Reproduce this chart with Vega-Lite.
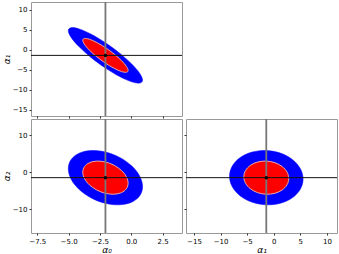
{
  "$schema": "https://vega.github.io/schema/vega-lite/v6.json",
  "padding": {"left": 1, "top": 0, "right": 0, "bottom": 0},
  "background": "white",
  "config": {
    "view": {"stroke": "#999", "strokeWidth": 1},
    "axis": {"labelFont": "DejaVu Sans", "labelFontSize": 7, "labelColor": "#000", "labelOverlap": false, "labelFlush": false, "titleFont": "DejaVu Sans", "titleFontSize": 9, "titleFontWeight": "normal", "titleFontStyle": "italic", "titleColor": "#000", "grid": false, "domain": false, "tickColor": "#000", "tickSize": 2, "tickWidth": 0.8, "labelPadding": 2, "titlePadding": 1}
  },
  "datasets": {
    "ell": [
      {"p":"01","lv":1,"i":0,"x":-0.251,"y":-5.161},{"p":"01","lv":1,"i":1,"x":-0.389,"y":-4.138},{"p":"01","lv":1,"i":2,"x":-0.781,"y":-2.696},{"p":"01","lv":1,"i":3,"x":-1.368,"y":-1.059},{"p":"01","lv":1,"i":4,"x":-2.06,"y":0.527},{"p":"01","lv":1,"i":5,"x":-2.752,"y":1.819},{"p":"01","lv":1,"i":6,"x":-3.339,"y":2.622},{"p":"01","lv":1,"i":7,"x":-3.731,"y":2.812},{"p":"01","lv":1,"i":8,"x":-3.869,"y":2.361},{"p":"01","lv":1,"i":9,"x":-3.731,"y":1.338},{"p":"01","lv":1,"i":10,"x":-3.339,"y":-0.104},{"p":"01","lv":1,"i":11,"x":-2.752,"y":-1.741},{"p":"01","lv":1,"i":12,"x":-2.06,"y":-3.327},{"p":"01","lv":1,"i":13,"x":-1.368,"y":-4.619},{"p":"01","lv":1,"i":14,"x":-0.781,"y":-5.422},{"p":"01","lv":1,"i":15,"x":-0.389,"y":-5.612},
      {"p":"01","lv":2,"i":0,"x":0.903,"y":-7.561},{"p":"01","lv":2,"i":1,"x":0.678,"y":-5.884},{"p":"01","lv":2,"i":2,"x":0.035,"y":-3.525},{"p":"01","lv":2,"i":3,"x":-0.926,"y":-0.842},{"p":"01","lv":2,"i":4,"x":-2.06,"y":1.756},{"p":"01","lv":2,"i":5,"x":-3.194,"y":3.874},{"p":"01","lv":2,"i":6,"x":-4.155,"y":5.189},{"p":"01","lv":2,"i":7,"x":-4.798,"y":5.5},{"p":"01","lv":2,"i":8,"x":-5.023,"y":4.761},{"p":"01","lv":2,"i":9,"x":-4.798,"y":3.084},{"p":"01","lv":2,"i":10,"x":-4.155,"y":0.725},{"p":"01","lv":2,"i":11,"x":-3.194,"y":-1.958},{"p":"01","lv":2,"i":12,"x":-2.06,"y":-4.556},{"p":"01","lv":2,"i":13,"x":-0.926,"y":-6.674},{"p":"01","lv":2,"i":14,"x":0.035,"y":-7.989},{"p":"01","lv":2,"i":15,"x":0.678,"y":-8.3},
      {"p":"02","lv":1,"i":0,"x":-0.251,"y":-2.93},{"p":"02","lv":1,"i":1,"x":-0.389,"y":-1.197},{"p":"02","lv":1,"i":2,"x":-0.781,"y":0.496},{"p":"02","lv":1,"i":3,"x":-1.368,"y":1.895},{"p":"02","lv":1,"i":4,"x":-2.06,"y":2.783},{"p":"02","lv":1,"i":5,"x":-2.752,"y":3.027},{"p":"02","lv":1,"i":6,"x":-3.339,"y":2.59},{"p":"02","lv":1,"i":7,"x":-3.731,"y":1.537},{"p":"02","lv":1,"i":8,"x":-3.869,"y":0.03},{"p":"02","lv":1,"i":9,"x":-3.731,"y":-1.703},{"p":"02","lv":1,"i":10,"x":-3.339,"y":-3.396},{"p":"02","lv":1,"i":11,"x":-2.752,"y":-4.795},{"p":"02","lv":1,"i":12,"x":-2.06,"y":-5.683},{"p":"02","lv":1,"i":13,"x":-1.368,"y":-5.927},{"p":"02","lv":1,"i":14,"x":-0.781,"y":-5.49},{"p":"02","lv":1,"i":15,"x":-0.389,"y":-4.437},
      {"p":"02","lv":2,"i":0,"x":0.903,"y":-3.874},{"p":"02","lv":2,"i":1,"x":0.678,"y":-1.036},{"p":"02","lv":2,"i":2,"x":0.035,"y":1.739},{"p":"02","lv":2,"i":3,"x":-0.926,"y":4.028},{"p":"02","lv":2,"i":4,"x":-2.06,"y":5.484},{"p":"02","lv":2,"i":5,"x":-3.194,"y":5.884},{"p":"02","lv":2,"i":6,"x":-4.155,"y":5.167},{"p":"02","lv":2,"i":7,"x":-4.798,"y":3.444},{"p":"02","lv":2,"i":8,"x":-5.023,"y":0.974},{"p":"02","lv":2,"i":9,"x":-4.798,"y":-1.864},{"p":"02","lv":2,"i":10,"x":-4.155,"y":-4.639},{"p":"02","lv":2,"i":11,"x":-3.194,"y":-6.928},{"p":"02","lv":2,"i":12,"x":-2.06,"y":-8.384},{"p":"02","lv":2,"i":13,"x":-0.926,"y":-8.784},{"p":"02","lv":2,"i":14,"x":0.035,"y":-8.067},{"p":"02","lv":2,"i":15,"x":0.678,"y":-6.344},
      {"p":"12","lv":1,"i":0,"x":2.826,"y":-1.674},{"p":"12","lv":1,"i":1,"x":2.504,"y":0.057},{"p":"12","lv":1,"i":2,"x":1.588,"y":1.558},{"p":"12","lv":1,"i":3,"x":0.217,"y":2.601},{"p":"12","lv":1,"i":4,"x":-1.4,"y":3.028},{"p":"12","lv":1,"i":5,"x":-3.017,"y":2.773},{"p":"12","lv":1,"i":6,"x":-4.388,"y":1.874},{"p":"12","lv":1,"i":7,"x":-5.304,"y":0.471},{"p":"12","lv":1,"i":8,"x":-5.626,"y":-1.226},{"p":"12","lv":1,"i":9,"x":-5.304,"y":-2.957},{"p":"12","lv":1,"i":10,"x":-4.388,"y":-4.458},{"p":"12","lv":1,"i":11,"x":-3.017,"y":-5.501},{"p":"12","lv":1,"i":12,"x":-1.4,"y":-5.928},{"p":"12","lv":1,"i":13,"x":0.217,"y":-5.673},{"p":"12","lv":1,"i":14,"x":1.588,"y":-4.774},{"p":"12","lv":1,"i":15,"x":2.504,"y":-3.371},
      {"p":"12","lv":2,"i":0,"x":5.522,"y":-1.817},{"p":"12","lv":2,"i":1,"x":4.995,"y":1.018},{"p":"12","lv":2,"i":2,"x":3.495,"y":3.477},{"p":"12","lv":2,"i":3,"x":1.249,"y":5.188},{"p":"12","lv":2,"i":4,"x":-1.4,"y":5.886},{"p":"12","lv":2,"i":5,"x":-4.049,"y":5.468},{"p":"12","lv":2,"i":6,"x":-6.295,"y":3.997},{"p":"12","lv":2,"i":7,"x":-7.795,"y":1.696},{"p":"12","lv":2,"i":8,"x":-8.322,"y":-1.083},{"p":"12","lv":2,"i":9,"x":-7.795,"y":-3.918},{"p":"12","lv":2,"i":10,"x":-6.295,"y":-6.377},{"p":"12","lv":2,"i":11,"x":-4.049,"y":-8.088},{"p":"12","lv":2,"i":12,"x":-1.4,"y":-8.786},{"p":"12","lv":2,"i":13,"x":1.249,"y":-8.368},{"p":"12","lv":2,"i":14,"x":3.495,"y":-6.897},{"p":"12","lv":2,"i":15,"x":4.995,"y":-4.596}
    ],
    "ctr": [
      {"p":"01","x":-2.06,"y":-1.4},
      {"p":"02","x":-2.06,"y":-1.45},
      {"p":"12","x":-1.4,"y":-1.45}
    ]
  },
  "spacing": 3,
  "bounds": "flush",
  "vconcat": [
    {
      "width": 151, "height": 114,
      "layer": [
        {"data": {"name": "ell"}, "transform": [{"filter": "datum.p == '01' && datum.lv == 2"}],
         "mark": {"type": "line", "interpolate": "cardinal-closed", "fill": "#0000ff", "stroke": "#0000ff", "strokeWidth": 0.5},
         "encoding": {
           "x": {"field": "x", "type": "quantitative", "scale": {"domain": [-8, 4.05], "nice": false, "zero": false}, "axis": {"title": null, "values": [-7.5, -5, -2.5, 0, 2.5], "tickCount": 20, "labels": false, "labelOverlap": false}},
           "y": {"field": "y", "type": "quantitative", "scale": {"domain": [-16.5, 11.9], "nice": false, "zero": false}, "axis": {"title": "α₁", "values": [-15, -10, -5, 0, 5, 10], "tickCount": 20, "labelOverlap": false}},
           "order": {"field": "i", "type": "quantitative"}}},
        {"data": {"name": "ell"}, "transform": [{"filter": "datum.p == '01' && datum.lv == 1"}],
         "mark": {"type": "line", "interpolate": "cardinal-closed", "fill": "#ff0000", "stroke": "#e8a8a8", "strokeWidth": 1},
         "encoding": {"x": {"field": "x", "type": "quantitative"}, "y": {"field": "y", "type": "quantitative"}, "order": {"field": "i", "type": "quantitative"}}},
        {"data": {"name": "ctr"}, "transform": [{"filter": "datum.p == '01'"}],
         "mark": {"type": "rule", "color": "#777", "strokeWidth": 1.8},
         "encoding": {"x": {"field": "x", "type": "quantitative"}}},
        {"data": {"name": "ctr"}, "transform": [{"filter": "datum.p == '01'"}],
         "mark": {"type": "rule", "color": "#111", "strokeWidth": 1},
         "encoding": {"y": {"field": "y", "type": "quantitative"}}},
        {"data": {"name": "ctr"}, "transform": [{"filter": "datum.p == '01'"}],
         "mark": {"type": "point", "filled": true, "color": "#000", "size": 12, "opacity": 1},
         "encoding": {"x": {"field": "x", "type": "quantitative"}, "y": {"field": "y", "type": "quantitative"}}}
      ]
    },
    {
      "spacing": 4,
      "bounds": "flush",
      "hconcat": [
        {
          "width": 151, "height": 114,
          "layer": [
            {"data": {"name": "ell"}, "transform": [{"filter": "datum.p == '02' && datum.lv == 2"}],
             "mark": {"type": "line", "interpolate": "cardinal-closed", "fill": "#0000ff", "stroke": "#0000ff", "strokeWidth": 0.5},
             "encoding": {
               "x": {"field": "x", "type": "quantitative", "scale": {"domain": [-8, 4.05], "nice": false, "zero": false}, "axis": {"title": "α₀", "values": [-7.5, -5, -2.5, 0, 2.5], "tickCount": 20, "format": ".1f", "labelOverlap": false}},
               "y": {"field": "y", "type": "quantitative", "scale": {"domain": [-16.4, 14.4], "nice": false, "zero": false}, "axis": {"title": "α₂", "values": [-10, 0, 10], "tickCount": 20, "labelOverlap": false}},
               "order": {"field": "i", "type": "quantitative"}}},
            {"data": {"name": "ell"}, "transform": [{"filter": "datum.p == '02' && datum.lv == 1"}],
             "mark": {"type": "line", "interpolate": "cardinal-closed", "fill": "#ff0000", "stroke": "#e8a8a8", "strokeWidth": 1},
             "encoding": {"x": {"field": "x", "type": "quantitative"}, "y": {"field": "y", "type": "quantitative"}, "order": {"field": "i", "type": "quantitative"}}},
            {"data": {"name": "ctr"}, "transform": [{"filter": "datum.p == '02'"}],
             "mark": {"type": "rule", "color": "#777", "strokeWidth": 1.8},
             "encoding": {"x": {"field": "x", "type": "quantitative"}}},
            {"data": {"name": "ctr"}, "transform": [{"filter": "datum.p == '02'"}],
             "mark": {"type": "rule", "color": "#111", "strokeWidth": 1},
             "encoding": {"y": {"field": "y", "type": "quantitative"}}},
            {"data": {"name": "ctr"}, "transform": [{"filter": "datum.p == '02'"}],
             "mark": {"type": "point", "filled": true, "color": "#000", "size": 12, "opacity": 1},
             "encoding": {"x": {"field": "x", "type": "quantitative"}, "y": {"field": "y", "type": "quantitative"}}}
          ]
        },
        {
          "width": 151, "height": 114,
          "layer": [
            {"data": {"name": "ell"}, "transform": [{"filter": "datum.p == '12' && datum.lv == 2"}],
             "mark": {"type": "line", "interpolate": "cardinal-closed", "fill": "#0000ff", "stroke": "#0000ff", "strokeWidth": 0.5},
             "encoding": {
               "x": {"field": "x", "type": "quantitative", "scale": {"domain": [-16.5, 11.9], "nice": false, "zero": false}, "axis": {"title": "α₁", "values": [-15, -10, -5, 0, 5, 10], "tickCount": 20, "labelOverlap": false}},
               "y": {"field": "y", "type": "quantitative", "scale": {"domain": [-16.4, 14.4], "nice": false, "zero": false}, "axis": {"title": null, "values": [-10, 0, 10], "tickCount": 20, "labels": false, "labelOverlap": false}},
               "order": {"field": "i", "type": "quantitative"}}},
            {"data": {"name": "ell"}, "transform": [{"filter": "datum.p == '12' && datum.lv == 1"}],
             "mark": {"type": "line", "interpolate": "cardinal-closed", "fill": "#ff0000", "stroke": "#e8a8a8", "strokeWidth": 1},
             "encoding": {"x": {"field": "x", "type": "quantitative"}, "y": {"field": "y", "type": "quantitative"}, "order": {"field": "i", "type": "quantitative"}}},
            {"data": {"name": "ctr"}, "transform": [{"filter": "datum.p == '12'"}],
             "mark": {"type": "rule", "color": "#777", "strokeWidth": 1.8},
             "encoding": {"x": {"field": "x", "type": "quantitative"}}},
            {"data": {"name": "ctr"}, "transform": [{"filter": "datum.p == '12'"}],
             "mark": {"type": "rule", "color": "#111", "strokeWidth": 1},
             "encoding": {"y": {"field": "y", "type": "quantitative"}}},
            {"data": {"name": "ctr"}, "transform": [{"filter": "datum.p == '12'"}],
             "mark": {"type": "point", "filled": true, "color": "#000", "size": 12, "opacity": 1},
             "encoding": {"x": {"field": "x", "type": "quantitative"}, "y": {"field": "y", "type": "quantitative"}}}
          ]
        }
      ]
    }
  ]
}
